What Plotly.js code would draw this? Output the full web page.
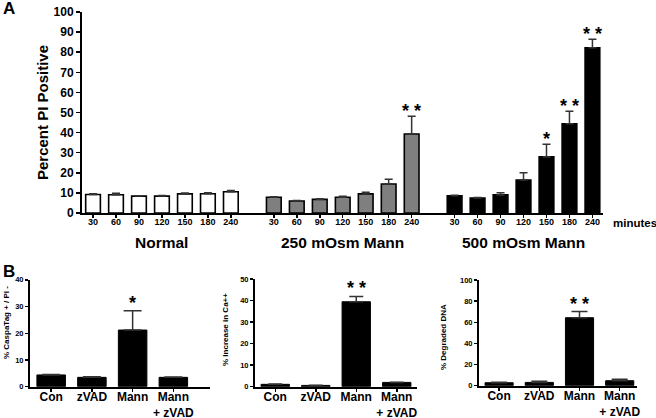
<!DOCTYPE html>
<html>
<head>
<meta charset="utf-8">
<script src="https://cdn.plot.ly/plotly-3.0.1.min.js"></script>
<style>html,body{margin:0;padding:0;background:#fff}#chart{width:656px;height:418px}</style>
</head>
<body>
<div id="chart"></div>
<script>
// ---- Panel A data ----
const minutes = ['30','60','90','120','150','180','240'];
const groups = ['Normal','250 mOsm Mann','500 mOsm Mann'];
const normalVals = [9.2, 9.1, 8.4, 8.4, 9.5, 9.6, 10.6];
const normalErr  = [0.4, 0.7, 0.2, 0.3, 0.4, 0.5, 0.6];
const mann250Vals = [7.8, 6.0, 6.8, 7.8, 9.5, 14.4, 39.3];
const mann250Err  = [0.3, 0.2, 0.3, 0.5, 0.8, 2.4, 8.8];
const mann500Vals = [8.6, 7.5, 9.0, 16.4, 27.9, 44.4, 82.2];
const mann500Err  = [0.2, 0.2, 1.1, 3.6, 6.3, 6.2, 4.2];
const normalStars  = ['','','','','','',''];
const mann250Stars = ['','','','','','','* *'];
const mann500Stars = ['','','','','*','* *','* *'];
const groupFill = ['#ffffff', '#7f7f7f', '#000000'];

// ---- Panel B data ----
const bCats = ['Con', 'zVAD', 'Mann', 'Mann<br>+ zVAD'];
const caspaVals = [4.4, 3.5, 21.2, 3.5];
const caspaErr  = [0.2, 0.2, 7.2, 0.1];
const caspaStars = ['', '', '*', ''];
const caVals = [1.1, 0.6, 39.5, 2.0];
const caErr  = [0.1, 0.1, 2.5, 0.1];
const caStars = ['', '', '* *', ''];
const dnaVals = [2.8, 3.1, 64.3, 4.7];
const dnaErr  = [0.4, 1.0, 5.8, 1.4];
const dnaStars = ['', '', '* *', ''];

const W = 656, H = 418;
const FONT = 'Arial, "Liberation Sans", Helvetica, sans-serif';
const GAP = 7.87;
const px = v => v / W;
const py = v => 1 - v / H;

const aVals = [normalVals, mann250Vals, mann500Vals];
const aErr = [normalErr, mann250Err, mann500Err];
const aStars = [normalStars, mann250Stars, mann500Stars];

const traces = [];
const starAnns = [];
const tickvals = [], ticktext = [];
const starFont = {family: FONT, size: 18, color: '#000', weight: 'bold'};
groups.forEach((g, gi) => {
  const xs = minutes.map((m, i) => gi * GAP + i);
  xs.forEach((x, i) => { tickvals.push(x); ticktext.push(minutes[i]); });
  traces.push({
    type: 'bar', x: xs, y: aVals[gi], width: 0.64,
    marker: {color: groupFill[gi], line: {color: '#000', width: 1.6}},
    error_y: {type: 'data', array: aErr[gi], arrayminus: aErr[gi].map(() => 0), symmetric: false,
              color: '#333', thickness: 1.5, width: 4},
    xaxis: 'x', yaxis: 'y', hoverinfo: 'skip'
  });
  xs.forEach((x, i) => {
    if (aStars[gi][i]) starAnns.push({text: aStars[gi][i], x: x, y: aVals[gi][i] + aErr[gi][i],
      xref: 'x', yref: 'y', xanchor: 'center', yanchor: 'middle', yshift: 5, showarrow: false, font: starFont});
  });
});

const bSets = [
  {vals: caspaVals, err: caspaErr, stars: caspaStars, xa: 'x2', ya: 'y2', cap: 9},
  {vals: caVals, err: caErr, stars: caStars, xa: 'x3', ya: 'y3', cap: 7},
  {vals: dnaVals, err: dnaErr, stars: dnaStars, xa: 'x4', ya: 'y4', cap: 8}
];
bSets.forEach(s => {
  traces.push({
    type: 'bar', x: bCats, y: s.vals, width: 0.7,
    marker: {color: '#000', line: {color: '#000', width: 1}},
    error_y: {type: 'data', array: s.err, arrayminus: s.err.map(() => 0), symmetric: false,
              color: '#333', thickness: 1.5, width: s.cap},
    xaxis: s.xa, yaxis: s.ya, hoverinfo: 'skip'
  });
  s.stars.forEach((t, i) => {
    if (t) starAnns.push({text: t, x: bCats[i], y: s.vals[i] + s.err[i], xref: s.xa, yref: s.ya,
      xanchor: 'center', yanchor: 'middle', yshift: 8, showarrow: false, font: starFont});
  });
});

const axLine = {showline: true, linecolor: '#000', linewidth: 2, showgrid: false, zeroline: false,
  ticks: 'outside', tickcolor: '#000', tickwidth: 1.5, fixedrange: true};

const bx = (d, r) => Object.assign({}, axLine, {domain: d, range: r, ticklen: 3, type: 'category',
  ticklabelstandoff: -5,
  tickfont: {family: FONT, size: 12, color: '#000', weight: 'bold'}});
const by = (d, r, dt, xa) => Object.assign({}, axLine, {domain: d, range: r, dtick: dt, ticklen: 3,
  anchor: xa, tickfont: {family: FONT, size: 7.5, color: '#000', weight: 'bold'}});

const ann = (text, x, y, size, extra) => Object.assign({text: text, x: x, y: y, xref: 'paper', yref: 'paper',
  xanchor: 'center', yanchor: 'middle', showarrow: false,
  font: {family: FONT, size: size, color: '#000', weight: 'bold'}}, extra || {});

const layout = {
  width: W, height: H, margin: {l: 0, r: 0, t: 0, b: 0},
  paper_bgcolor: '#fff', plot_bgcolor: '#fff', showlegend: false, bargap: 0,
  xaxis: Object.assign({}, axLine, {domain: [px(82), px(603)], range: [-0.48, 22.2], anchor: 'y',
    tickvals: tickvals, ticktext: ticktext, ticklen: 3, ticklabelstandoff: -4,
    tickfont: {family: FONT, size: 9, color: '#000', weight: 'bold'}}),
  yaxis: Object.assign({}, axLine, {domain: [py(213), py(12)], range: [0, 100], dtick: 10, ticklen: 4,
    anchor: 'x', tickfont: {family: FONT, size: 12, color: '#000', weight: 'bold'}}),
  xaxis2: Object.assign(bx([px(30), px(210)], [-0.52, 3.9]), {anchor: 'y2'}),
  yaxis2: by([py(386.7), py(279.8)], [0, 40], 10, 'x2'),
  xaxis3: Object.assign(bx([px(255), px(417)], [-0.5, 3.5]), {anchor: 'y3'}),
  yaxis3: by([py(386.7), py(279.2)], [0, 50], 10, 'x3'),
  xaxis4: Object.assign(bx([px(479), px(637)], [-0.5, 3.43]), {anchor: 'y4'}),
  yaxis4: by([py(385.7), py(280)], [0, 100], 20, 'x4'),
  annotations: [
    ann('A', px(9), py(9), 17),
    ann('B', px(9), py(271), 17),
    ann('Percent PI Positive', px(42), py(113), 15, {textangle: -90}),
    ann('minutes', px(611), py(223), 11.5, {xanchor: 'left'}),
    ...groups.map((g, gi) => ann(g, gi * GAP + 3, py(242), 15.5, {xref: 'x'})),
    ann('% CaspaTag + / PI -', px(6), py(323), 8, {textangle: -90}),
    ann('% Increase in Ca++', px(225), py(330), 8, {textangle: -90}),
    ann('% Degraded DNA', px(443), py(337), 8, {textangle: -90}),
    ...starAnns
  ]
};

Plotly.newPlot('chart', traces, layout, {staticPlot: true, displayModeBar: false});
</script>
</body>
</html>
